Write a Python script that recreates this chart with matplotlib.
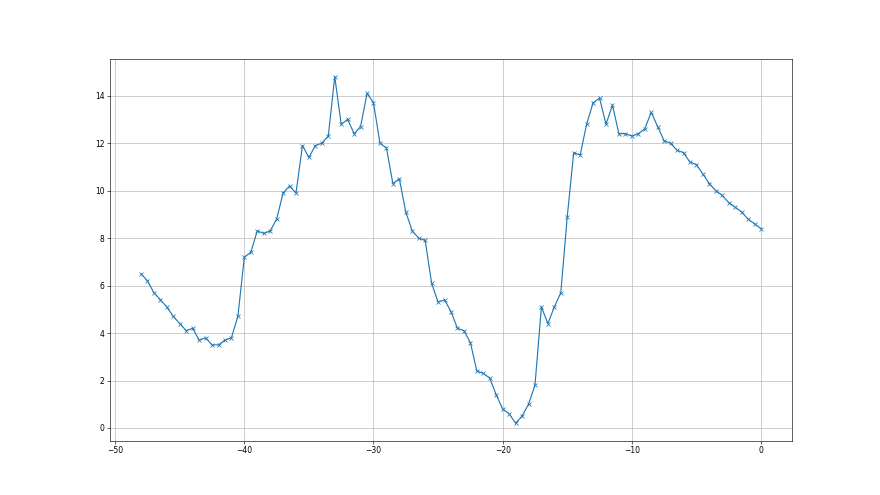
import numpy as np
import matplotlib
matplotlib.use("Agg")
import matplotlib.pyplot as plt

x_start = -48.0
x_step = 0.5
values = [
    6.5, 6.2, 5.7, 5.4, 5.1, 4.7, 4.4, 4.1, 4.2, 3.7,
    3.8, 3.5, 3.5, 3.7, 3.8, 4.7, 7.2, 7.4, 8.3, 8.2,
    8.3, 8.8, 9.9, 10.2, 9.9, 11.9, 11.4, 11.9, 12.0, 12.3,
    14.8, 12.8, 13.0, 12.4, 12.7, 14.1, 13.7, 12.0, 11.8, 10.3,
    10.5, 9.1, 8.3, 8.0, 7.9, 6.1, 5.3, 5.4, 4.9, 4.2,
    4.1, 3.6, 2.4, 2.3, 2.1, 1.4, 0.8, 0.6, 0.2, 0.5,
    1.0, 1.8, 5.1, 4.4, 5.1, 5.7, 8.9, 11.6, 11.5, 12.8,
    13.7, 13.9, 12.8, 13.6, 12.4, 12.4, 12.3, 12.4, 12.6, 13.3,
    12.7, 12.1, 12.0, 11.7, 11.6, 11.2, 11.1, 10.7, 10.3, 10.0,
    9.8, 9.5, 9.3, 9.1, 8.8, 8.6, 8.4,
]
x = x_start + x_step * np.arange(len(values))

fig, ax = plt.subplots(figsize=(16, 9), dpi=55)
ax.plot(x, values, marker="x", color="C0")
ax.grid(True)

fig.savefig("out.png")
